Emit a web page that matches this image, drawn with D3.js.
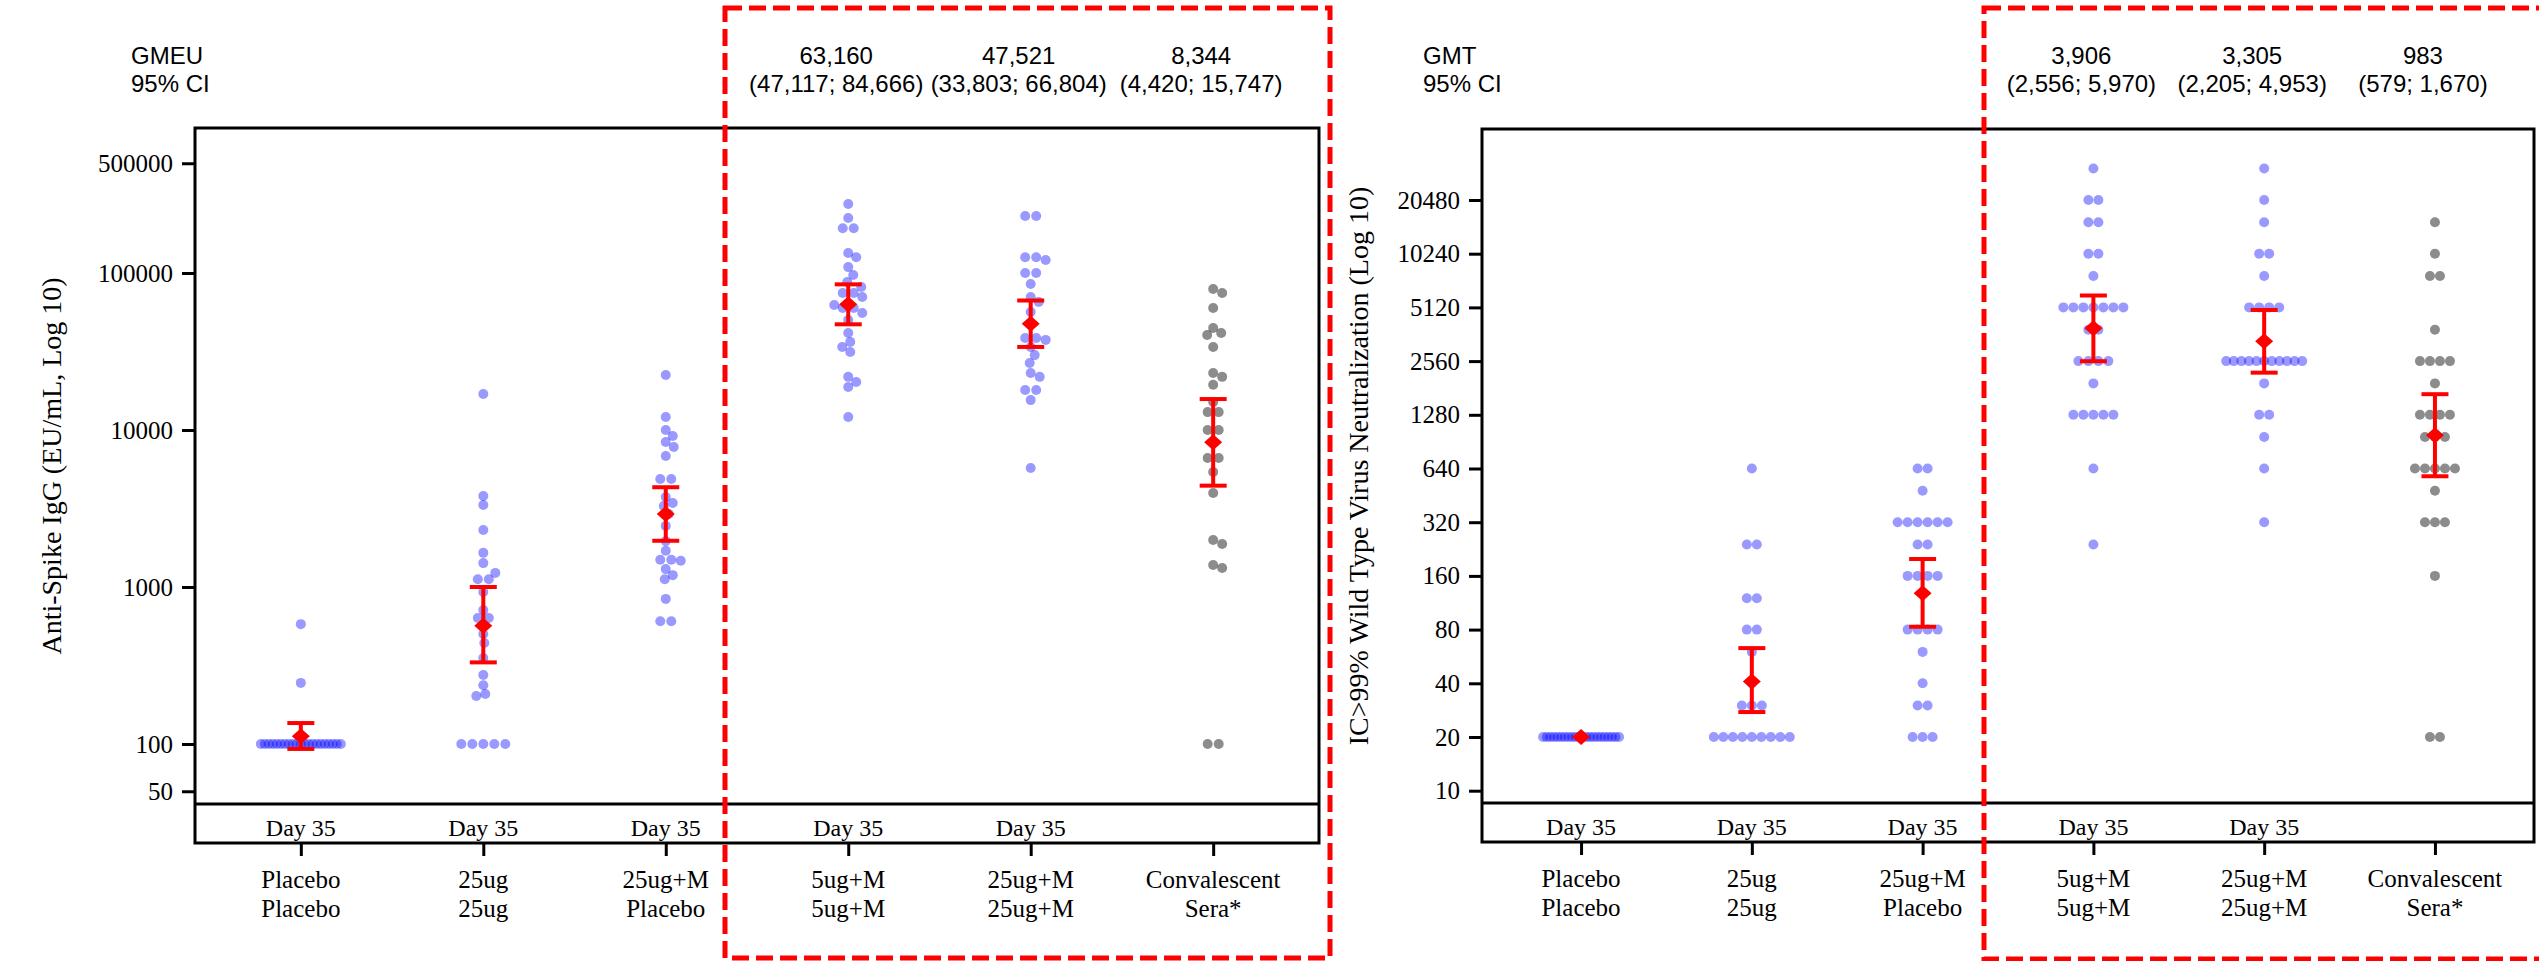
<!DOCTYPE html>
<html>
<head>
<meta charset="utf-8">
<script src="https://cdn.jsdelivr.net/npm/d3@7"></script>
<style>
body { margin: 0; background: #fff; }
</style>
</head>
<body>
<div id="chart"></div>
<script>
// group labels (two lines under the axis) and the visit row
var groupTop = ["Placebo", "25ug", "25ug+M", "5ug+M", "25ug+M", "Convalescent"];
var groupBottom = ["Placebo", "25ug", "Placebo", "5ug+M", "25ug+M", "Sera*"];
var dayLabels = ["Day 35", "Day 35", "Day 35", "Day 35", "Day 35", ""];

// anti-spike IgG (EU/mL), one list per group
var iggValues = [
	[100, 100, 100, 100, 100, 100, 100, 100, 100, 100, 100, 100, 100, 100, 100, 100, 100, 100, 100, 100, 100, 245, 580],
	[16950, 3800, 3330, 2310, 1650, 1420, 1230, 1120, 1120, 930, 714, 635, 635, 502, 440, 353, 275, 237, 208, 202, 100, 100, 100, 100, 100],
	[22400, 12100, 10000, 9160, 8390, 7800, 6830, 4870, 4870, 3740, 3430, 3280, 2920, 2450, 1960, 1700, 1490, 1470, 1490, 1300, 1190, 1120, 840, 605, 605],
	[275000, 224000, 193000, 193000, 134000, 126000, 109000, 97100, 87700, 81500, 74600, 74600, 70300, 62500, 59800, 59800, 55600, 50200, 41500, 36400, 33800, 31400, 21800, 20200, 18800, 12100],
	[231000, 231000, 126000, 126000, 121000, 100000, 100000, 85100, 70300, 65300, 56500, 48000, 38500, 38500, 37500, 33800, 30000, 26700, 23100, 21800, 18000, 18000, 15500, 5730],
	[79100, 74600, 59800, 44600, 41500, 40300, 33800, 23100, 21800, 19400, 15100, 13000, 13000, 10000, 10000, 8390, 6630, 6630, 5400, 3970, 1990, 1880, 1380, 1320, 100, 100]
];
var iggMean = [112, 567, 2920, 63160, 47521, 8344];
var iggLow = [93, 331, 1970, 47117, 33803, 4420];
var iggHigh = [136, 1000, 4320, 84666, 66804, 15747];
var iggTicks = [50, 100, 1000, 10000, 100000, 500000];

// IC>99% neutralization titres, one list per group
var nabValues = [
	[20, 20, 20, 20, 20, 20, 20, 20, 20, 20, 20, 20, 20, 20, 20, 20, 20, 20, 20, 20, 20, 20],
	[640, 240, 240, 120, 120, 80, 80, 60, 40, 30, 30, 30, 20, 20, 20, 20, 20, 20, 20, 20, 20],
	[640, 640, 480, 320, 320, 320, 320, 320, 320, 240, 240, 160, 160, 160, 160, 80, 80, 80, 80, 60, 40, 30, 30, 20, 20, 20],
	[30720, 20480, 20480, 15360, 15360, 10240, 10240, 7680, 5120, 5120, 5120, 5120, 5120, 5120, 5120, 3840, 3840, 2560, 2560, 2560, 2560, 1920, 1280, 1280, 1280, 1280, 1280, 640, 240],
	[30720, 20480, 15360, 10240, 10240, 7680, 5120, 5120, 5120, 5120, 2560, 2560, 2560, 2560, 2560, 2560, 2560, 2560, 2560, 2560, 2560, 1920, 1280, 1280, 960, 640, 320],
	[15360, 10240, 7680, 7680, 3840, 2560, 2560, 2560, 2560, 1920, 1280, 1280, 1280, 1280, 960, 960, 960, 640, 640, 640, 640, 640, 480, 320, 320, 320, 160, 20, 20]
];
var nabMean = [20, 41, 128, 3906, 3305, 983];
var nabLow = [null, 27.6, 83, 2556, 2205, 579];
var nabHigh = [null, 63, 199, 5970, 4953, 1670];
var nabTicks = [10, 20, 40, 80, 160, 320, 640, 1280, 2560, 5120, 10240, 20480];

// groups that get the summary numbers above the frame
var summaryGroups = [3, 4, 5];

var serif = "'Liberation Serif', 'Times New Roman', serif";
var sans = "'Liberation Sans', Arial, sans-serif";
var fmt = d3.format(",");

var svg = d3.select("#chart")
	.append("svg")
	.attr("width", 2539)
	.attr("height", 961);

// horizontal offsets for one group: equal values side by side,
// the remaining ones pushed sideways when they collide
function swarm(vals, y, gap, spread, minDist) {
	var placed = [];
	var singles = [];
	d3.group(vals, function(v) { return v; }).forEach(function(row, v) {
		var n = row.length;
		if (n == 1) { singles.push(v); return; }
		var step = Math.min(gap, spread / (n - 1));
		row.forEach(function(d, i) {
			placed.push({ v: v, cy: y(v), dx: (i - (n - 1) / 2) * step });
		});
	});
	singles.sort(d3.descending).forEach(function(v) {
		var cy = y(v), dx = 0;
		search:
		for (var k = 0; k <= spread / 2; k++) {
			var cands = k == 0 ? [0] : [k, -k];
			for (var c = 0; c < cands.length; c++) {
				var ok = placed.every(function(p) {
					return (p.dx - cands[c]) * (p.dx - cands[c]) + (p.cy - cy) * (p.cy - cy) >= minDist * minDist;
				});
				if (ok) { dx = cands[c]; break search; }
			}
		}
		placed.push({ v: v, cy: cy, dx: dx });
	});
	return placed;
}

function drawPanel(p) {
	var x = d3.scalePoint()
		.domain(d3.range(groupTop.length))
		.range([p.left, p.right])
		.padding(0.58);

	// frame + separator above the visit row
	svg.append("rect")
		.attr("x", p.left)
		.attr("y", p.top)
		.attr("width", p.right - p.left)
		.attr("height", p.bottom - p.top)
		.attr("fill", "none")
		.attr("stroke", "#000")
		.attr("stroke-width", 3);
	svg.append("line")
		.attr("x1", p.left)
		.attr("x2", p.right)
		.attr("y1", p.plotBottom)
		.attr("y2", p.plotBottom)
		.attr("stroke", "#000")
		.attr("stroke-width", 3);

	// y axis
	var gy = svg.append("g")
		.attr("transform", "translate(" + p.left + ",0)")
		.call(d3.axisLeft(p.y).tickValues(p.ticks).tickFormat(d3.format("d")).tickSize(13).tickPadding(9));
	gy.select(".domain").remove();
	gy.selectAll(".tick line").attr("stroke", "#000").attr("stroke-width", 3);
	gy.selectAll(".tick text")
		.attr("fill", "#000")
		.attr("font-family", serif)
		.attr("font-size", 25);

	// x ticks under the frame
	var gx = svg.append("g")
		.attr("transform", "translate(0," + p.bottom + ")")
		.call(d3.axisBottom(x).tickSize(13).tickFormat(""));
	gx.select(".domain").remove();
	gx.selectAll(".tick line").attr("stroke", "#000").attr("stroke-width", 3);

	// visit row and group labels
	d3.range(groupTop.length).forEach(function(g) {
		svg.append("text")
			.attr("x", x(g))
			.attr("y", p.bottom - 7)
			.attr("text-anchor", "middle")
			.attr("font-family", serif)
			.attr("font-size", 24)
			.text(dayLabels[g]);
		svg.append("text")
			.attr("x", x(g))
			.attr("y", p.bottom + 45)
			.attr("text-anchor", "middle")
			.attr("font-family", serif)
			.attr("font-size", 25)
			.text(groupTop[g]);
		svg.append("text")
			.attr("x", x(g))
			.attr("y", p.bottom + 74)
			.attr("text-anchor", "middle")
			.attr("font-family", serif)
			.attr("font-size", 25)
			.text(groupBottom[g]);
	});

	// y title
	svg.append("text")
		.attr("transform", "translate(" + p.titleX + "," + ((p.top + p.plotBottom) / 2) + ") rotate(-90)")
		.attr("text-anchor", "middle")
		.attr("font-family", serif)
		.attr("font-size", 28)
		.text(p.title);

	// dots
	var points = [];
	p.values.forEach(function(vals, g) {
		swarm(vals, p.y, p.gap, p.spread, p.minDist).forEach(function(d) {
			points.push({ g: g, v: d.v, dx: d.dx });
		});
	});
	svg.append("g").selectAll("circle")
		.data(points)
		.join("circle")
		.attr("cx", function(d) { return x(d.g) + d.dx; })
		.attr("cy", function(d) { return p.y(d.v); })
		.attr("r", 5)
		.attr("fill", function(d) { return d.g == 5 ? "#000" : "#0000ff"; })
		.attr("fill-opacity", function(d) { return d.g == 5 ? 0.45 : 0.4; });

	// error bars and means
	d3.range(groupTop.length).forEach(function(g) {
		var cx = x(g);
		if (p.lows[g] != null) {
			var y1 = p.y(p.lows[g]), y2 = p.y(p.highs[g]);
			svg.append("line")
				.attr("x1", cx).attr("x2", cx).attr("y1", y1).attr("y2", y2)
				.attr("stroke", "#ff0000").attr("stroke-width", 4);
			[y1, y2].forEach(function(yy) {
				svg.append("line")
					.attr("x1", cx - 13.5).attr("x2", cx + 13.5).attr("y1", yy).attr("y2", yy)
					.attr("stroke", "#ff0000").attr("stroke-width", 4);
			});
		}
		var my = p.y(p.means[g]);
		svg.append("path")
			.attr("d", "M" + cx + "," + (my - 8) + "L" + (cx + 9) + "," + my + "L" + cx + "," + (my + 8) + "L" + (cx - 9) + "," + my + "Z")
			.attr("fill", "#ff0000");
	});

	// summary header
	svg.append("text")
		.attr("x", p.statX).attr("y", 64)
		.attr("font-family", sans).attr("font-size", 24)
		.text(p.stat);
	svg.append("text")
		.attr("x", p.statX).attr("y", 92)
		.attr("font-family", sans).attr("font-size", 24)
		.text("95% CI");
	summaryGroups.forEach(function(g) {
		svg.append("text")
			.attr("x", x(g) - 12).attr("y", 64)
			.attr("text-anchor", "middle")
			.attr("font-family", sans).attr("font-size", 24)
			.text(fmt(p.means[g]));
		svg.append("text")
			.attr("x", x(g) - 12).attr("y", 92)
			.attr("text-anchor", "middle")
			.attr("font-family", sans).attr("font-size", 24)
			.text("(" + fmt(p.lows[g]) + "; " + fmt(p.highs[g]) + ")");
	});
}

drawPanel({
	left: 195, right: 1319, top: 128, plotBottom: 804, bottom: 843,
	y: d3.scaleLog().domain([100, 100000]).range([744, 273]),
	ticks: iggTicks,
	values: iggValues, means: iggMean, lows: iggLow, highs: iggHigh,
	title: "Anti-Spike IgG (EU/mL, Log 10)", titleX: 61,
	stat: "GMEU", statX: 131,
	gap: 11, spread: 80, minDist: 9
});

drawPanel({
	left: 1482, right: 2534, top: 129, plotBottom: 803, bottom: 842,
	y: d3.scaleLog().base(2).domain([20, 20480]).range([737, 200]),
	ticks: nabTicks,
	values: nabValues, means: nabMean, lows: nabLow, highs: nabHigh,
	title: "IC>99% Wild Type Virus Neutralization (Log 10)", titleX: 1368,
	stat: "GMT", statX: 1423,
	gap: 10, spread: 76, minDist: 9
});

// red dashed highlight boxes
svg.append("rect")
	.attr("x", 725).attr("y", 8).attr("width", 605).attr("height", 950)
	.attr("fill", "none").attr("stroke", "#ff0000").attr("stroke-width", 5)
	.attr("stroke-dasharray", "17,7");
svg.append("rect")
	.attr("x", 1984).attr("y", 8).attr("width", 600).attr("height", 951)
	.attr("fill", "none").attr("stroke", "#ff0000").attr("stroke-width", 5)
	.attr("stroke-dasharray", "17,7");
</script>
</body>
</html>
